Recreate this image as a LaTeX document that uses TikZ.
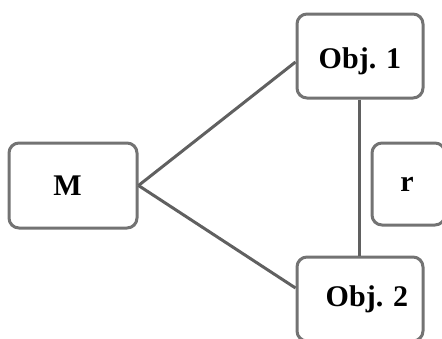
\documentclass[tikz,border=0pt]{standalone}
\usepackage{fontspec}
\setmainfont{Liberation Serif}
\definecolor{boxgray}{RGB}{115,115,115}
\definecolor{linkgray}{RGB}{96,96,96}
\begin{document}
\begin{tikzpicture}[x=1pt,y=-1pt,
  box/.style={draw=boxgray, line width=3pt, rounded corners=10pt, fill=white,
    inner sep=0pt, font=\fontsize{30}{36}\selectfont\bfseries},
  link/.style={draw=linkgray, line width=3pt}]
  \useasboundingbox (0,0) rectangle (442,338);
  \clip (0,0) rectangle (442,338);
  \node[box, minimum width=126pt, minimum height=84pt,
        text height=24pt, text depth=0pt] (o1) at (360,56) {Obj. 1};
  \node[box, minimum width=126pt, minimum height=84pt] (o2) at (360,299) {\hspace{14pt}Obj. 2};
  \node[box, minimum width=128pt, minimum height=85pt] (m) at (73,185.5) {\hspace{-11pt}M};
  \node[box, minimum width=73pt, minimum height=82pt] (r) at (408.5,184) {\hspace{-3pt}r};
  \draw[link] (m.east) -- ([yshift=-6pt]o1.west);
  \draw[link] (m.east) -- ([yshift=11pt]o2.west);
  \draw[link] ([xshift=-1pt]o1.south) -- ([xshift=-1pt]o2.north);
\end{tikzpicture}
\end{document}
